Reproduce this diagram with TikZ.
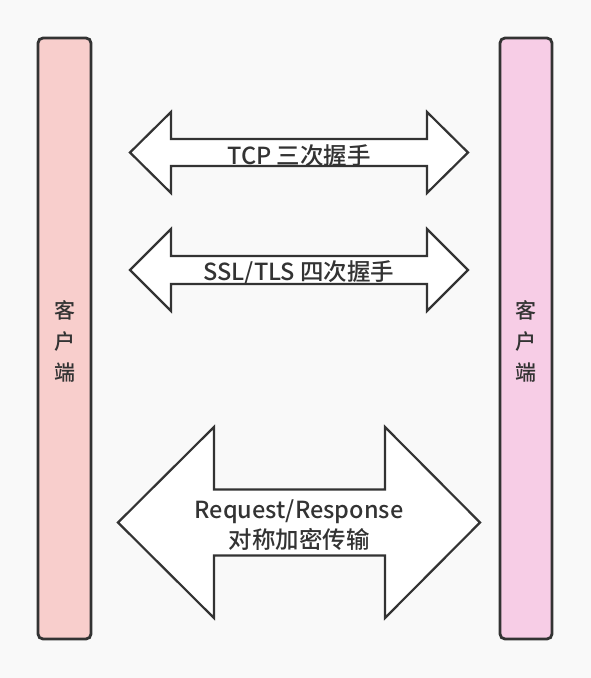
\documentclass[tikz,border=0pt]{standalone}
\usepackage{fontspec}
\setmainfont{Noto Sans CJK SC Medium}
\definecolor{bgc}{HTML}{F9F9F9}
\definecolor{linec}{HTML}{333333}
\definecolor{leftfill}{HTML}{F8CECC}
\definecolor{rightfill}{HTML}{F7CDE6}
\tikzset{
  bar/.style={draw=linec, line width=2.8pt, rounded corners=5pt},
  dblarrow/.style={draw=linec, fill=white, line width=2.2pt, line join=miter},
  lbl/.style={text=linec, font=\fontsize{23.5}{30}\selectfont, inner sep=0pt, align=center},
  barlbl/.style={text=linec, font=\fontsize{21}{31}\selectfont, inner sep=0pt, align=center},
}
\newcommand\mydblarrow[7]{%
  % #1 left tip x, #2 left base x, #3 right base x, #4 right tip x, #5 center y, #6 head half, #7 shaft half
  \draw[dblarrow] (#1,#5) -- (#2,#5-#6) -- (#2,#5-#7) -- (#3,#5-#7) -- (#3,#5-#6)
     -- (#4,#5) -- (#3,#5+#6) -- (#3,#5+#7) -- (#2,#5+#7) -- (#2,#5+#6) -- cycle;}
\begin{document}
\begin{tikzpicture}[x=1pt,y=-1pt]
\fill[bgc] (0,0) rectangle (591,678);
\useasboundingbox (0,0) rectangle (591,678);
% bars
\draw[bar, fill=leftfill] (38,38) rectangle (91,639);
\draw[bar, fill=rightfill] (500,38) rectangle (552,639);
\node[barlbl] (cl) at (64.5,341) {客\\户\\端};
\node[barlbl] (sv) at (526,341) {客\\户\\端};
% arrows
\mydblarrow{130}{171}{427}{468}{152.5}{40.5}{13.5}
\node[lbl] (tcp) at (299,156) {TCP 三次握手};
\mydblarrow{130}{171}{427}{468}{270}{41}{14}
\node[lbl] (ssl) at (299,273) {SSL/TLS 四次握手};
\mydblarrow{118}{214}{385}{480}{522.5}{95.5}{33}
\node[lbl] (req) at (299,525) {Request/Response\\对称加密传输};
\end{tikzpicture}
\end{document}
